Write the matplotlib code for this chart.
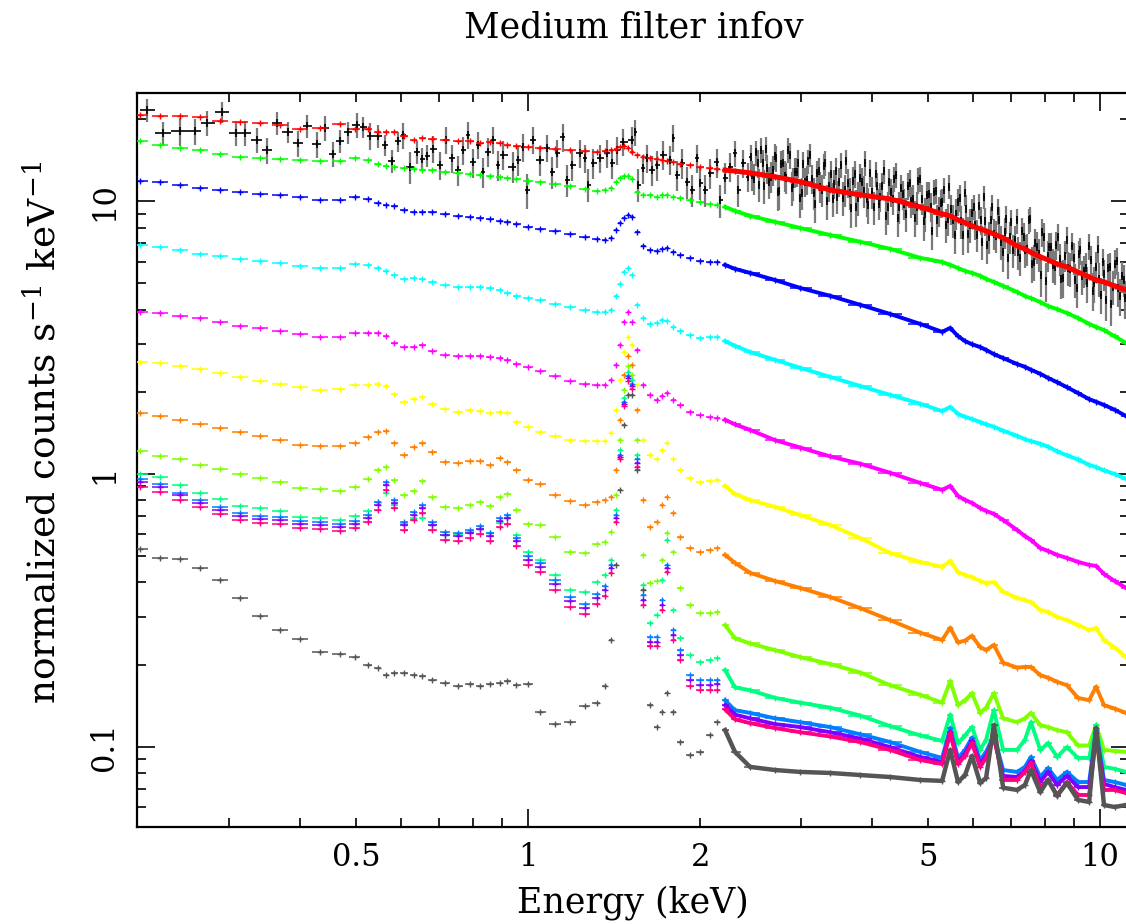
import numpy as np
import matplotlib
matplotlib.use("Agg")
import matplotlib.pyplot as plt
from matplotlib.ticker import FixedLocator, FuncFormatter

# shared energy grid (keV) for the folded model curves
energy = [
    0.210, 0.227, 0.246, 0.267, 0.289, 0.314, 0.340, 0.368, 0.399, 0.433, 0.469, 0.498,
    0.525, 0.547, 0.565, 0.583, 0.607, 0.632, 0.653, 0.680, 0.716, 0.755, 0.792, 0.824,
    0.858, 0.894, 0.919, 0.953, 1.000, 1.049, 1.115, 1.184, 1.258, 1.320, 1.363, 1.397,
    1.425, 1.448, 1.472, 1.496, 1.520, 1.551, 1.589, 1.634, 1.681, 1.715, 1.750, 1.793,
    1.844, 1.920, 2.000, 2.081, 2.140, 2.210, 2.300, 2.444, 2.703, 2.990, 3.373, 3.810,
    4.295, 4.845, 5.295, 5.470, 5.645, 5.807, 5.970, 6.170, 6.320, 6.520, 6.770, 7.160,
    7.390, 7.570, 7.860, 8.110, 8.410, 8.750, 9.150, 9.570, 9.840, 10.16, 10.60, 11.10,
]

red = [
    20.7, 20.5, 20.5, 20.4, 19.7, 19.5, 19.4, 19.1, 18.4, 18.6, 19.2, 18.4,
    18.4, 17.9, 17.9, 18.0, 17.4, 16.8, 17.1, 16.9, 16.8, 16.6, 16.6, 16.3,
    16.5, 16.3, 16.1, 15.9, 15.8, 15.7, 15.5, 15.4, 15.3, 15.2, 15.3, 15.4,
    15.5, 15.8, 16.0, 15.7, 15.2, 14.8, 14.5, 14.4, 14.3, 14.2, 14.0, 13.9,
    13.7, 13.6, 13.3, 13.2, 13.1, 13.0, 12.9, 12.7, 12.3, 11.8, 11.0, 10.55,
    10.2, 9.53, 8.99, 8.84, 8.54, 8.33, 8.12, 7.92, 7.78, 7.58, 7.34, 6.86,
    6.69, 6.49, 6.26, 6.09, 5.89, 5.74, 5.50, 5.28, 5.14, 5.06, 4.89, 4.73,
]
green = [
    16.6, 16.1, 15.7, 15.4, 14.9, 14.5, 14.4, 14.3, 14.2, 14.0, 14.0, 14.4,
    14.2, 13.7, 13.5, 13.4, 13.2, 13.1, 13.0, 13.0, 12.8, 12.7, 12.6, 12.5,
    12.4, 12.3, 12.2, 12.1, 11.9, 11.8, 11.6, 11.4, 11.1, 10.9, 11.0, 11.2,
    11.8, 12.2, 12.4, 12.4, 12.1, 10.8, 10.55, 10.5, 10.4, 10.5, 10.5, 10.4,
    10.3, 10.1, 9.90, 9.77, 9.69, 9.53, 9.22, 8.84, 8.40, 7.98, 7.52, 7.10,
    6.69, 6.20, 5.99, 5.84, 5.69, 5.55, 5.46, 5.33, 5.19, 5.06, 4.89, 4.65,
    4.49, 4.41, 4.27, 4.13, 4.02, 3.89, 3.73, 3.55, 3.46, 3.37, 3.20, 3.02,
]
blue = [
    11.9, 11.8, 11.5, 11.2, 11.0, 10.8, 10.6, 10.55, 10.4, 10.1, 10.1, 10.4,
    10.2, 9.86, 9.69, 9.60, 9.29, 9.13, 9.13, 9.13, 8.98, 8.83, 8.76, 8.69,
    8.61, 8.47, 8.40, 8.26, 8.05, 7.92, 7.78, 7.58, 7.39, 7.27, 7.21, 7.33,
    7.85, 8.33, 8.69, 8.91, 8.76, 7.72, 6.86, 6.63, 6.58, 6.69, 6.75, 6.52,
    6.36, 6.20, 6.04, 5.99, 5.99, 5.84, 5.65, 5.46, 5.14, 4.81, 4.50, 4.17,
    3.86, 3.55, 3.32, 3.43, 3.20, 3.07, 2.99, 2.92, 2.85, 2.75, 2.66, 2.53,
    2.47, 2.41, 2.33, 2.25, 2.17, 2.08, 1.98, 1.88, 1.84, 1.79, 1.72, 1.63,
]
cyan = [
    6.92, 6.80, 6.63, 6.41, 6.31, 6.14, 6.04, 5.94, 5.79, 5.69, 5.69, 5.89,
    5.84, 5.69, 5.55, 5.37, 5.18, 5.23, 5.18, 5.06, 4.93, 4.85, 4.85, 4.85,
    4.81, 4.73, 4.61, 4.50, 4.42, 4.35, 4.20, 4.10, 3.99, 3.93, 3.93, 3.99,
    4.50, 4.97, 5.50, 5.69, 5.37, 4.17, 3.73, 3.55, 3.58, 3.67, 3.64, 3.46,
    3.34, 3.23, 3.15, 3.18, 3.18, 3.07, 2.95, 2.80, 2.62, 2.45, 2.27, 2.10,
    1.95, 1.81, 1.70, 1.76, 1.66, 1.62, 1.59, 1.55, 1.52, 1.49, 1.44, 1.38,
    1.34, 1.32, 1.29, 1.26, 1.21, 1.17, 1.13, 1.08, 1.06, 1.03, 1.00, 0.959,
]
magenta = [
    3.93, 3.89, 3.80, 3.73, 3.61, 3.49, 3.43, 3.34, 3.26, 3.18, 3.18, 3.29,
    3.29, 3.29, 3.21, 3.02, 2.93, 2.93, 2.97, 2.82, 2.73, 2.71, 2.71, 2.71,
    2.68, 2.66, 2.62, 2.53, 2.47, 2.38, 2.29, 2.19, 2.14, 2.12, 2.12, 2.21,
    2.51, 2.97, 3.61, 3.93, 3.61, 2.85, 2.12, 1.95, 1.87, 1.93, 1.98, 1.87,
    1.79, 1.69, 1.65, 1.62, 1.60, 1.58, 1.52, 1.45, 1.33, 1.25, 1.16, 1.09,
    1.01, 0.927, 0.874, 0.904, 0.830, 0.803, 0.783, 0.750, 0.732, 0.714, 0.678, 0.623,
    0.592, 0.573, 0.535, 0.522, 0.505, 0.492, 0.476, 0.464, 0.460, 0.430, 0.405, 0.382,
]
yellow = [
    2.57, 2.55, 2.49, 2.43, 2.34, 2.27, 2.19, 2.14, 2.08, 2.03, 2.05, 2.12,
    2.12, 2.14, 2.10, 1.96, 1.84, 1.88, 1.92, 1.81, 1.73, 1.69, 1.72, 1.70,
    1.67, 1.69, 1.67, 1.55, 1.49, 1.43, 1.38, 1.33, 1.32, 1.32, 1.32, 1.41,
    1.72, 2.21, 2.80, 3.18, 2.97, 2.12, 1.33, 1.17, 1.13, 1.22, 1.30, 1.13,
    1.03, 0.967, 0.935, 0.943, 0.951, 0.904, 0.844, 0.803, 0.757, 0.707, 0.650, 0.582,
    0.513, 0.476, 0.456, 0.480, 0.437, 0.426, 0.418, 0.405, 0.398, 0.401, 0.370, 0.351,
    0.345, 0.339, 0.317, 0.312, 0.299, 0.291, 0.279, 0.268, 0.272, 0.246, 0.231, 0.213,
]
orange = [
    1.67, 1.63, 1.58, 1.52, 1.47, 1.43, 1.38, 1.33, 1.28, 1.27, 1.27, 1.30,
    1.37, 1.43, 1.44, 1.30, 1.17, 1.26, 1.30, 1.20, 1.11, 1.10, 1.12, 1.12,
    1.08, 1.14, 1.11, 1.03, 0.951, 0.919, 0.838, 0.796, 0.770, 0.789, 0.803, 0.823,
    1.03, 1.58, 2.31, 2.71, 2.51, 1.72, 0.803, 0.639, 0.666, 0.770, 0.823, 0.720,
    0.585, 0.535, 0.518, 0.526, 0.535, 0.505, 0.472, 0.434, 0.405, 0.382, 0.354, 0.322,
    0.291, 0.262, 0.246, 0.273, 0.241, 0.245, 0.255, 0.232, 0.226, 0.236, 0.203, 0.195,
    0.196, 0.196, 0.183, 0.179, 0.173, 0.168, 0.151, 0.148, 0.166, 0.142, 0.138, 0.133,
]
lime = [
    1.21, 1.16, 1.13, 1.08, 1.04, 1.00, 0.967, 0.935, 0.889, 0.882, 0.867, 0.896,
    0.959, 1.03, 1.06, 0.951, 0.838, 0.867, 0.943, 0.823, 0.757, 0.751, 0.770, 0.789,
    0.764, 0.823, 0.844, 0.738, 0.656, 0.650, 0.587, 0.518, 0.513, 0.554, 0.565, 0.613,
    0.838, 1.33, 2.03, 2.49, 2.31, 1.33, 0.505, 0.399, 0.405, 0.484, 0.608, 0.518,
    0.382, 0.331, 0.310, 0.310, 0.312, 0.279, 0.250, 0.239, 0.226, 0.213, 0.201, 0.187,
    0.168, 0.155, 0.145, 0.174, 0.142, 0.148, 0.157, 0.133, 0.139, 0.157, 0.127, 0.123,
    0.127, 0.133, 0.120, 0.118, 0.115, 0.113, 0.101, 0.101, 0.120, 0.0973, 0.0965, 0.0957,
]
spring = [
    1.00, 0.975, 0.911, 0.852, 0.810, 0.764, 0.751, 0.732, 0.695, 0.689, 0.678, 0.701,
    0.732, 0.789, 0.852, 0.770, 0.656, 0.689, 0.689, 0.650, 0.597, 0.602, 0.613, 0.628,
    0.608, 0.660, 0.689, 0.597, 0.518, 0.484, 0.426, 0.376, 0.369, 0.401, 0.426, 0.484,
    0.738, 1.22, 1.90, 2.37, 2.21, 1.17, 0.392, 0.283, 0.304, 0.409, 0.573, 0.317,
    0.250, 0.216, 0.205, 0.208, 0.212, 0.191, 0.165, 0.161, 0.151, 0.145, 0.139, 0.130,
    0.119, 0.110, 0.105, 0.131, 0.103, 0.110, 0.118, 0.0973, 0.106, 0.136, 0.0973, 0.0973,
    0.106, 0.123, 0.0973, 0.103, 0.0917, 0.0996, 0.0909, 0.0909, 0.120, 0.0843, 0.0829, 0.0808,
]
azure = [
    0.959, 0.919, 0.852, 0.803, 0.757, 0.720, 0.702, 0.695, 0.672, 0.667, 0.656, 0.672,
    0.707, 0.789, 0.935, 0.803, 0.667, 0.726, 0.770, 0.667, 0.613, 0.608, 0.623, 0.645,
    0.608, 0.689, 0.707, 0.583, 0.501, 0.472, 0.409, 0.354, 0.334, 0.363, 0.389, 0.464,
    0.707, 1.17, 1.84, 2.29, 2.14, 1.13, 0.360, 0.253, 0.253, 0.345, 0.464, 0.268,
    0.226, 0.183, 0.176, 0.176, 0.176, 0.148, 0.136, 0.133, 0.127, 0.123, 0.118, 0.111,
    0.104, 0.0957, 0.0909, 0.117, 0.0909, 0.0973, 0.108, 0.0894, 0.0957, 0.110, 0.0821, 0.0808,
    0.0843, 0.0917, 0.0774, 0.0835, 0.0755, 0.0808, 0.0742, 0.0742, 0.115, 0.0755, 0.0742, 0.0724,
]
violet = [
    0.935, 0.896, 0.838, 0.783, 0.738, 0.702, 0.684, 0.678, 0.656, 0.650, 0.639, 0.656,
    0.689, 0.770, 0.911, 0.783, 0.650, 0.707, 0.751, 0.650, 0.597, 0.592, 0.608, 0.628,
    0.592, 0.672, 0.689, 0.567, 0.484, 0.456, 0.395, 0.342, 0.323, 0.351, 0.376, 0.452,
    0.689, 1.15, 1.81, 2.25, 2.10, 1.10, 0.345, 0.242, 0.242, 0.331, 0.452, 0.257,
    0.217, 0.176, 0.168, 0.168, 0.170, 0.142, 0.131, 0.127, 0.121, 0.118, 0.113, 0.107,
    0.0996, 0.0917, 0.0879, 0.113, 0.0879, 0.0940, 0.105, 0.0864, 0.0925, 0.108, 0.0781, 0.0774,
    0.0814, 0.0887, 0.0742, 0.0808, 0.0724, 0.0781, 0.0711, 0.0711, 0.112, 0.0730, 0.0711, 0.0694,
]
rose = [
    0.896, 0.859, 0.803, 0.757, 0.714, 0.678, 0.661, 0.656, 0.634, 0.628, 0.618, 0.634,
    0.667, 0.738, 0.874, 0.751, 0.623, 0.678, 0.720, 0.623, 0.573, 0.568, 0.583, 0.602,
    0.568, 0.639, 0.656, 0.544, 0.464, 0.437, 0.376, 0.326, 0.306, 0.334, 0.357, 0.434,
    0.667, 1.13, 1.78, 2.19, 2.05, 1.06, 0.331, 0.234, 0.234, 0.317, 0.437, 0.246,
    0.208, 0.167, 0.161, 0.161, 0.162, 0.137, 0.126, 0.122, 0.117, 0.113, 0.109, 0.104,
    0.0973, 0.0894, 0.0864, 0.112, 0.0864, 0.0925, 0.103, 0.0843, 0.0909, 0.109, 0.0755, 0.0755,
    0.0808, 0.0872, 0.0707, 0.0755, 0.0665, 0.0742, 0.0665, 0.0665, 0.109, 0.0694, 0.0694, 0.0676,
]
grey = [
    0.531, 0.492, 0.488, 0.452, 0.409, 0.351, 0.302, 0.268, 0.248, 0.222, 0.218, 0.214,
    0.199, 0.194, 0.183, 0.187, 0.187, 0.183, 0.181, 0.176, 0.171, 0.167, 0.170, 0.167,
    0.170, 0.171, 0.174, 0.168, 0.170, 0.134, 0.121, 0.123, 0.141, 0.145, 0.167, 0.246,
    0.464, 0.874, 1.51, 1.95, 1.95, 1.03, 0.376, 0.142, 0.118, 0.134, 0.157, 0.134,
    0.104, 0.0932, 0.0957, 0.110, 0.123, 0.115, 0.0957, 0.0843, 0.0821, 0.0808, 0.0801, 0.0787,
    0.0774, 0.0755, 0.0749, 0.0973, 0.0742, 0.0787, 0.0925, 0.0736, 0.0768, 0.120, 0.0707, 0.0694,
    0.0724, 0.0821, 0.0681, 0.0755, 0.0660, 0.0736, 0.0638, 0.0627, 0.117, 0.0611, 0.0601, 0.0611,
]

# observed spectrum: (energy keV, rate, 1-sigma error)
data_low = [
    (0.216, 21.6, 2.1), (0.230, 17.8, 1.8), (0.246, 18.1, 2.1), (0.262, 18.1, 2.0),
    (0.275, 19.4, 2.0), (0.292, 21.2, 1.9), (0.308, 17.8, 1.9), (0.320, 17.8, 1.9),
    (0.336, 16.8, 1.8), (0.350, 15.4, 1.7), (0.364, 19.4, 1.9), (0.380, 17.9, 1.6),
    (0.396, 16.3, 1.8), (0.411, 18.9, 1.9), (0.428, 16.2, 1.8), (0.442, 18.6, 1.9),
    (0.456, 14.9, 1.6), (0.469, 16.6, 1.6), (0.484, 17.9, 1.7), (0.502, 19.05, 2.0),
    (0.515, 18.7, 1.6), (0.530, 17.4, 2.0), (0.547, 17.4, 1.7), (0.562, 16.1, 1.4),
    (0.578, 14.05, 1.4), (0.593, 16.6, 1.4), (0.604, 17.5, 1.9), (0.622, 13.4, 1.8),
    (0.640, 15.2, 1.5), (0.653, 14.3, 1.4), (0.666, 14.7, 1.4),
]
data_mid = [
    (0.682, 15.6, 1.8), (0.702, 13.6, 1.6), (0.719, 16.8, 1.9), (0.736, 14.4, 1.7),
    (0.755, 13.0, 1.6), (0.770, 15.4, 1.8), (0.785, 17.5, 2.0), (0.801, 13.9, 1.7),
    (0.818, 16.1, 1.8), (0.834, 12.8, 1.6), (0.851, 15.2, 1.8), (0.869, 16.8, 1.9),
    (0.886, 13.6, 1.7), (0.904, 14.8, 1.8), (0.941, 13.4, 1.7), (0.961, 14.2, 1.8),
    (0.980, 15.8, 1.9), (0.996, 11.0, 1.6), (1.020, 16.8, 1.9), (1.049, 14.2, 1.8),
    (1.080, 15.7, 1.8), (1.101, 12.8, 1.7), (1.124, 15.0, 1.8), (1.151, 17.2, 2.0),
    (1.170, 12.0, 1.6), (1.194, 13.6, 1.7), (1.233, 15.0, 1.8), (1.258, 14.4, 1.7),
    (1.273, 11.5, 1.6), (1.299, 13.8, 1.7), (1.336, 14.4, 1.7), (1.374, 15.0, 1.8),
    (1.403, 13.8, 1.7), (1.431, 15.4, 1.8), (1.466, 16.5, 1.9), (1.520, 16.8, 1.9),
    (1.539, 17.9, 2.0), (1.557, 11.5, 1.6), (1.589, 13.2, 1.6), (1.614, 14.4, 1.7),
    (1.647, 13.0, 1.6), (1.681, 13.6, 1.7), (1.722, 14.8, 1.8), (1.771, 14.2, 1.7),
    (1.793, 17.1, 1.9), (1.822, 12.5, 1.6), (1.858, 13.8, 1.7), (1.897, 11.8, 1.6),
    (1.935, 11.0, 1.5), (1.974, 14.4, 1.7), (1.999, 11.7, 1.6), (2.039, 11.0, 1.5),
    (2.081, 12.7, 1.6), (2.140, 13.9, 1.7), (2.166, 10.1, 1.4), (2.210, 12.2, 1.6),
    (2.255, 13.4, 1.6), (2.301, 15.0, 1.7), (2.329, 11.0, 1.5), (2.376, 13.8, 1.6),
    (2.424, 12.3, 1.5),
]
data_high = [
    (2.45, 14.5, 1.6), (2.48, 12.1, 1.6), (2.52, 13.8, 1.6), (2.55, 15.4, 1.6),
    (2.59, 11.4, 1.6), (2.62, 13.2, 1.6), (2.66, 12.3, 1.6), (2.70, 14.6, 1.6),
    (2.73, 10.8, 1.6), (2.77, 13.7, 1.6), (2.81, 12.4, 1.6), (2.85, 15.4, 1.6),
    (2.89, 11.2, 1.6), (2.93, 12.8, 1.6), (2.97, 13.8, 1.6), (3.01, 10.7, 1.45),
    (3.05, 11.8, 1.45), (3.09, 14.0, 1.45), (3.14, 12.1, 1.45), (3.18, 9.8, 1.45),
    (3.22, 12.9, 1.45), (3.27, 11.0, 1.45), (3.31, 13.8, 1.45), (3.36, 11.4, 1.45),
    (3.41, 10.2, 1.45), (3.45, 12.9, 1.45), (3.50, 11.8, 1.45), (3.55, 10.3, 1.45),
    (3.60, 14.0, 1.45), (3.65, 10.7, 1.45), (3.70, 11.9, 1.45), (3.75, 9.5, 1.45),
    (3.80, 12.2, 1.45), (3.86, 10.9, 1.45), (3.91, 10.2, 1.45), (3.96, 12.7, 1.45),
    (4.02, 9.5, 1.3), (4.08, 11.4, 1.3), (4.13, 10.4, 1.3), (4.19, 12.9, 1.3),
    (4.25, 9.5, 1.3), (4.31, 10.8, 1.3), (4.37, 12.1, 1.3), (4.43, 8.7, 1.3),
    (4.49, 11.2, 1.3), (4.55, 9.8, 1.3), (4.62, 11.4, 1.3), (4.68, 10.0, 1.3),
    (4.75, 8.7, 1.3), (4.81, 11.9, 1.3), (4.88, 10.2, 1.3), (4.95, 9.0, 1.3),
    (5.02, 10.6, 1.15), (5.09, 7.8, 1.15), (5.16, 10.9, 1.15), (5.23, 9.2, 1.15),
    (5.30, 9.9, 1.15), (5.38, 8.2, 1.15), (5.45, 11.3, 1.15), (5.53, 8.5, 1.15),
    (5.61, 9.0, 1.15), (5.68, 10.3, 1.15), (5.76, 7.5, 1.15), (5.84, 9.4, 1.15),
    (5.93, 8.2, 1.15), (6.01, 9.5, 1.0), (6.09, 7.5, 1.0), (6.18, 8.5, 1.0),
    (6.26, 10.4, 1.0), (6.35, 6.9, 1.0), (6.44, 8.5, 1.0), (6.53, 7.6, 1.0),
    (6.62, 9.2, 1.0), (6.71, 7.1, 1.0), (6.81, 7.7, 1.0), (6.90, 6.2, 1.0),
    (7.00, 8.4, 0.9), (7.10, 7.2, 0.9), (7.20, 6.5, 0.9), (7.30, 7.8, 0.9),
    (7.40, 6.6, 0.9), (7.50, 8.5, 0.9), (7.61, 5.9, 0.9), (7.71, 7.0, 0.9),
    (7.82, 6.4, 0.9), (7.93, 7.7, 0.9), (8.04, 5.1, 0.82), (8.15, 6.8, 0.82),
    (8.27, 5.85, 0.82), (8.38, 6.9, 0.82), (8.50, 6.15, 0.82), (8.62, 5.25, 0.82),
    (8.74, 7.2, 0.82), (8.86, 5.65, 0.82), (8.99, 6.2, 0.82), (9.11, 4.8, 0.75),
    (9.24, 6.6, 0.75), (9.37, 5.55, 0.75), (9.50, 5.0, 0.75), (9.63, 6.1, 0.75),
    (9.77, 5.0, 0.75), (9.90, 6.7, 0.75), (10.04, 4.55, 0.7), (10.18, 5.4, 0.7),
    (10.33, 5.7, 0.7), (10.47, 4.2, 0.7), (10.62, 5.9, 0.7), (10.77, 4.8, 0.7),
    (10.92, 5.3, 0.7), (11.07, 4.4, 0.7),
]
data_high2 = [
    (2.465, 12.5, 1.6), (2.500, 15.1, 1.6), (2.535, 11.5, 1.6), (2.570, 13.8, 1.6),
    (2.605, 15.6, 1.6), (2.640, 11.75, 1.6), (2.680, 13.0, 1.6), (2.715, 14.4, 1.6),
    (2.750, 10.9, 1.6), (2.790, 13.8, 1.6), (2.830, 12.2, 1.6), (2.870, 14.75, 1.6),
    (2.910, 11.6, 1.6), (2.950, 12.85, 1.6), (2.990, 10.3, 1.6), (3.030, 13.65, 1.45),
    (3.070, 12.0, 1.45), (3.115, 14.8, 1.45), (3.160, 10.7, 1.45), (3.200, 12.65, 1.45),
    (3.245, 11.3, 1.45), (3.290, 13.5, 1.45), (3.335, 10.0, 1.45), (3.385, 12.6, 1.45),
    (3.430, 11.6, 1.45), (3.475, 10.4, 1.45), (3.525, 13.6, 1.45), (3.575, 11.0, 1.45),
    (3.625, 11.7, 1.45), (3.675, 9.45, 1.45), (3.725, 12.6, 1.45), (3.775, 10.3, 1.45),
    (3.830, 11.8, 1.45), (3.885, 13.8, 1.45), (3.935, 9.7, 1.45), (3.990, 10.85, 1.45),
    (4.050, 12.6, 1.3), (4.105, 9.8, 1.3), (4.160, 11.4, 1.3), (4.220, 8.85, 1.3),
    (4.280, 11.8, 1.3), (4.340, 10.2, 1.3), (4.400, 12.5, 1.3), (4.460, 9.55, 1.3),
    (4.520, 10.6, 1.3), (4.585, 9.0, 1.3), (4.650, 11.7, 1.3), (4.715, 10.2, 1.3),
    (4.780, 9.5, 1.3), (4.845, 12.1, 1.3), (4.915, 8.45, 1.3), (4.985, 10.5, 1.3),
    (5.055, 9.55, 1.15), (5.125, 10.8, 1.15), (5.195, 8.55, 1.15), (5.265, 9.85, 1.15),
    (5.340, 11.0, 1.15), (5.415, 8.6, 1.15), (5.490, 9.35, 1.15), (5.570, 7.55, 1.15),
    (5.645, 9.95, 1.15), (5.720, 8.45, 1.15), (5.800, 10.75, 1.15), (5.885, 7.6, 1.15),
    (5.970, 9.05, 1.15), (6.050, 8.2, 1.0), (6.135, 9.6, 1.0), (6.220, 7.1, 1.0),
    (6.305, 8.45, 1.0), (6.395, 7.4, 1.0), (6.485, 9.5, 1.0), (6.575, 7.45, 1.0),
    (6.665, 8.5, 1.0), (6.760, 6.5, 1.0), (6.855, 8.6, 1.0), (6.950, 7.4, 1.0),
    (7.050, 6.6, 0.9), (7.150, 8.5, 0.9), (7.250, 6.2, 0.9), (7.350, 7.4, 0.9),
    (7.450, 6.7, 0.9), (7.555, 8.6, 0.9), (7.660, 6.0, 0.9), (7.765, 6.8, 0.9),
    (7.875, 5.35, 0.9), (7.985, 7.4, 0.9), (8.095, 6.3, 0.82), (8.210, 6.8, 0.82),
    (8.325, 5.75, 0.82), (8.440, 7.4, 0.82), (8.560, 5.2, 0.82), (8.680, 6.3, 0.82),
    (8.800, 5.7, 0.82), (8.925, 6.85, 0.82), (9.050, 5.15, 0.75), (9.175, 6.4, 0.75),
    (9.305, 5.3, 0.75), (9.435, 5.7, 0.75), (9.565, 6.85, 0.75), (9.700, 4.7, 0.75),
    (9.835, 5.75, 0.75), (9.970, 5.2, 0.75), (10.110, 6.0, 0.7), (10.255, 4.35, 0.7),
    (10.400, 5.75, 0.7), (10.545, 4.85, 0.7), (10.695, 6.05, 0.7), (10.845, 4.5, 0.7),
    (10.995, 5.15, 0.7),
]


def half_bins(e):
    e = np.asarray(e, dtype=float)
    mid = np.sqrt(e[1:] * e[:-1])
    lo = np.r_[e[0] ** 2 / mid[0], mid]
    hi = np.r_[mid, e[-1] ** 2 / mid[-1]]
    return e - lo, hi - e


plt.rcParams['font.family'] = 'DejaVu Serif'
plt.rcParams['mathtext.fontset'] = 'dejavuserif'

fig = plt.figure(figsize=(11.26, 9.24), dpi=100)
ax = fig.add_axes([0.1217, 0.1050, 0.881, 0.7944])
ax.set_xscale('log')
ax.set_yscale('log')

# data points: grey vertical errors, black bin widths
obs = sorted(data_low + data_mid + data_high + data_high2)
oe = np.array([p[0] for p in obs])
orate = np.array([p[1] for p in obs])
oerr = np.array([p[2] for p in obs])
oxl, oxh = half_bins(oe)
ax.errorbar(oe, orate, yerr=oerr, fmt='none', ecolor='#7a7a7a', elinewidth=1.6, zorder=2)
ax.errorbar(oe, orate, xerr=[oxl, oxh], fmt='none', ecolor='black', elinewidth=1.2, zorder=3)
ax.plot(oe, orate, ls='none', marker='|', ms=6, mew=1.2, color='black', zorder=3)

E = np.array(energy)
xl, xh = half_bins(E)
series = [
    (red, '#ff0000', 3.6), (green, '#00ff00', 2.8), (blue, '#0000ff', 2.8),
    (cyan, '#00ffff', 2.8), (magenta, '#ff00ff', 2.8), (yellow, '#ffff00', 2.8),
    (orange, '#ff8000', 2.8), (lime, '#80ff00', 2.8), (spring, '#00ff80', 2.8),
    (azure, '#0080ff', 2.8), (violet, '#8000ff', 2.8), (rose, '#ff0080', 2.8),
    (grey, '#555555', 3.2),
]
hi_e = E >= 2.2
for k, (vals, col, lw) in enumerate(series):
    v = np.array(vals)
    z = 4 + k * 0.1
    ax.errorbar(E, v, xerr=[xl * 0.8, xh * 0.8], fmt='none', ecolor=col,
                elinewidth=1.1, zorder=z)
    ax.plot(E, v, ls='none', marker='+', ms=4, mew=1.0, color=col, zorder=z)
    ax.plot(E[hi_e], v[hi_e], color=col, lw=lw, solid_joinstyle='round', zorder=z)

ax.set_xlim(0.2072, 11.237)
ax.set_ylim(0.05076, 24.95)

shown = {0.5, 2.0, 5.0}
ax.xaxis.set_major_locator(FixedLocator([1, 10]))
ax.xaxis.set_minor_locator(FixedLocator([0.3, 0.4, 0.5, 0.6, 0.7, 0.8, 0.9,
                                         2, 3, 4, 5, 6, 7, 8, 9]))
ax.xaxis.set_major_formatter(FuncFormatter(lambda x, p: f'{x:g}'))
ax.xaxis.set_minor_formatter(FuncFormatter(
    lambda x, p: f'{x:g}' if round(x, 3) in shown else ''))
ax.yaxis.set_major_locator(FixedLocator([0.1, 1, 10]))
ax.yaxis.set_minor_locator(FixedLocator([0.06, 0.07, 0.08, 0.09,
                                         0.2, 0.3, 0.4, 0.5, 0.6, 0.7, 0.8, 0.9,
                                         2, 3, 4, 5, 6, 7, 8, 9, 20]))
ax.yaxis.set_major_formatter(FuncFormatter(lambda y, p: f'{y:g}'))
ax.yaxis.set_minor_formatter(FuncFormatter(lambda y, p: ''))

ax.tick_params(which='both', direction='in', top=True, right=True,
               labelsize=22, width=1.2, colors='black')
ax.tick_params(which='major', length=13)
ax.tick_params(which='minor', length=6.5)
ax.tick_params(axis='x', which='both', pad=11)
ax.tick_params(axis='y', which='both', pad=12, labelrotation=90)
for lab in ax.get_yticklabels():
    lab.set_va('center')
for s in ax.spines.values():
    s.set_linewidth(1.6)

fig.text(634 / 1126, 1 - 37 / 924, 'Medium filter infov', ha='center',
         va='baseline', fontsize=25)
fig.text(633 / 1126, 1 - 913 / 924, 'Energy (keV)', ha='center',
         va='baseline', fontsize=25)
fig.text(44 / 1126, 1 - 432 / 924, r'normalized counts s$^{-1}$ keV$^{-1}$',
         ha='center', va='center', rotation=90, fontsize=27)

fig.savefig('out.png', dpi=100)
